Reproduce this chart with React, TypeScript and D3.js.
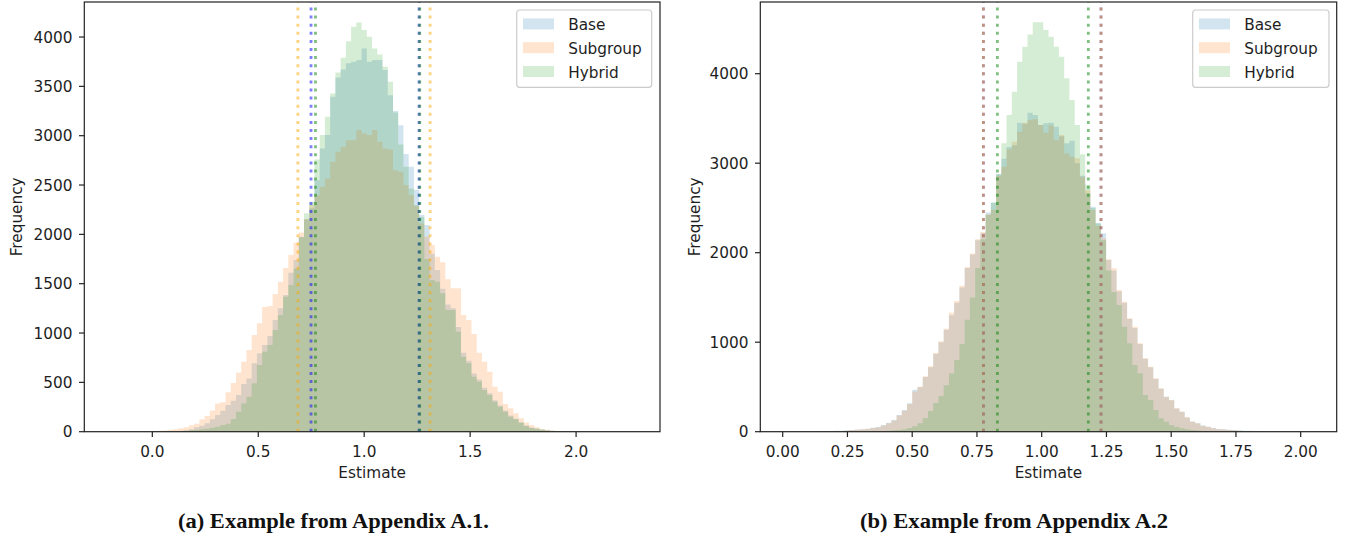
import React from 'react';
import * as d3 from 'd3';

// ---------- shared series metadata ----------
const seriesNames = ['Base', 'Subgroup', 'Hybrid'];
const fillColors = ['#1f77b4', '#ff7f0e', '#2ca02c'];
const lineColors = ['blue', 'orange', 'green'];

// ---------- panel (a): Appendix A.1 ----------
const aBinStart = -0.198;
const aBinWidth = 0.0247;
const aFirstBin = 8;
const aBase = [
  0, 0, 2, 4, 6, 10, 15, 25, 45, 60, 85, 126, 169, 213, 270, 314, 371, 483, 540, 693,
  794, 878, 970, 1132, 1250, 1385, 1611, 1739, 1976, 2150, 2264, 2548, 2870, 3006, 3394, 3591, 3672, 3733, 3750, 3766,
  3884, 3750, 3767, 3766, 3665, 3411, 3250, 3107, 2814, 2685, 2449, 2196, 2095, 1803, 1638, 1450, 1290, 1250, 1060, 800,
  720, 590, 530, 445, 390, 320, 265, 215, 165, 130, 95, 62, 42, 32, 22, 14, 9, 6, 4, 3,
  2, 2, 1,
];
const aSubgroup = [
  8, 10, 12, 17, 25, 34, 44, 65, 80, 125, 159, 216, 287, 298, 399, 493, 601, 709, 828, 980,
  1098, 1263, 1273, 1395, 1520, 1660, 1790, 1915, 2020, 2155, 2297, 2398, 2482, 2567, 2736, 2837, 2888, 2955, 2955, 3057,
  3023, 3006, 3057, 2938, 2871, 2861, 2651, 2634, 2499, 2398, 2287, 2111, 1976, 1892, 1773, 1717, 1544, 1453, 1453, 1182,
  1132, 990, 800, 709, 608, 456, 405, 281, 237, 186, 136, 92, 68, 45, 27, 20, 12, 8, 5, 3,
  2, 1, 0,
];
const aHybrid = [
  0, 0, 0, 2, 4, 6, 10, 14, 18, 24, 30, 41, 50, 68, 80, 128, 203, 287, 355, 490,
  675, 811, 878, 1030, 1182, 1368, 1486, 1655, 1970, 2213, 2330, 2760, 3006, 3192, 3428, 3640, 3790, 3958, 4103, 4148,
  4070, 4002, 3884, 3824, 3698, 3546, 3236, 2912, 2685, 2466, 2297, 2176, 1750, 1537, 1520, 1402, 1233, 1233, 1013, 760,
  693, 557, 507, 422, 372, 304, 253, 203, 152, 125, 91, 58, 37, 30, 20, 12, 8, 5, 3, 2,
  1, 0, 0,
];
// interval bounds per series (Base, Subgroup, Hybrid)
const aLower = [0.749, 0.687, 0.77];
const aUpper = [1.259, 1.311, 1.262];
const aXTicks = [0, 0.5, 1.0, 1.5, 2.0];
const aYTicks = [0, 500, 1000, 1500, 2000, 2500, 3000, 3500, 4000];
const aXDomain = [-0.321, 2.396];
const aYMax = 4355;

// ---------- panel (b): Appendix A.2 ----------
const bBinStart = 0.0147;
const bBinWidth = 0.02023;
const bFirstBin = 5;
const bBase = [
  3, 5, 6, 8, 10, 12, 15, 20, 24, 28, 32, 45, 52, 75, 101, 131, 187, 242, 317, 470,
  500, 610, 720, 870, 1000, 1140, 1300, 1440, 1610, 1830, 1980, 2140, 2220, 2450, 2560, 2880, 3050, 3180, 3200, 3453,
  3440, 3564, 3538, 3427, 3446, 3453, 3408, 3300, 3222, 3251, 3000, 2860, 2660, 2514, 2328, 2217, 1918, 1800, 1570, 1440,
  1260, 1160, 980, 815, 720, 590, 480, 390, 350, 260, 224, 160, 115, 95, 68, 56, 40, 30, 26, 22,
  18, 15, 12, 10, 8, 5, 3, 0,
];
const bSubgroup = [
  0, 2, 3, 5, 6, 8, 10, 18, 22, 26, 30, 42, 50, 70, 95, 125, 180, 235, 310, 450,
  503, 620, 730, 880, 1010, 1150, 1330, 1460, 1630, 1840, 1990, 2150, 2230, 2430, 2480, 2860, 2960, 3155, 3240, 3352,
  3453, 3483, 3491, 3427, 3341, 3420, 3259, 3315, 3111, 3073, 3054, 2849, 2700, 2477, 2300, 2161, 1926, 1826, 1583, 1453,
  1267, 1173, 988, 820, 726, 597, 485, 391, 354, 261, 224, 161, 112, 94, 67, 56, 38, 27, 25, 20,
  15, 10, 6, 4, 2, 1, 0, 0,
];
const bHybrid = [
  0, 0, 0, 0, 0, 0, 1, 2, 3, 4, 5, 6, 7, 8, 12, 15, 20, 28, 40, 60,
  95, 150, 230, 320, 400, 520, 650, 800, 980, 1250, 1500, 1830, 2150, 2420, 2559, 2876, 3222, 3538, 3799, 4134,
  4302, 4439, 4574, 4574, 4488, 4413, 4302, 4190, 3948, 3706, 3427, 3100, 2760, 2500, 2330, 2140, 1800, 1560, 1415, 1173,
  988, 745, 652, 410, 354, 242, 150, 112, 75, 56, 38, 27, 20, 13, 8, 5, 3, 2, 0, 0,
  0, 0, 0, 0, 0, 0, 0, 0,
];
const bLower = [0.775, 0.775, 0.829];
const bUpper = [1.229, 1.229, 1.18];
const bXTicks = [0, 0.25, 0.5, 0.75, 1.0, 1.25, 1.5, 1.75, 2.0];
const bYTicks = [0, 1000, 2000, 3000, 4000];
const bXDomain = [-0.0865, 2.139];
const bYMax = 4801;

const FONT = 'DejaVu Sans, sans-serif';
const FS = 15.3;
const TEXT = '#1e1e1e';

type PanelProps = {
  left: number;
  right: number;
  top: number;
  bottom: number;
  xDomain: number[];
  yMax: number;
  binStart: number;
  binWidth: number;
  firstBin: number;
  series: number[][];
  lower: number[];
  upper: number[];
  xTicks: number[];
  yTicks: number[];
  xFmt: (v: number) => string;
  ylabelX: number;
  legendX: number;
  legendW: number;
};

function Panel(p: PanelProps) {
  const x = d3.scaleLinear().domain(p.xDomain).range([p.left, p.right]);
  const y = d3.scaleLinear().domain([0, p.yMax]).range([p.bottom, p.top]);

  const area = d3
    .area<[number, number]>()
    .x((d) => x(d[0]))
    .y0(y(0))
    .y1((d) => y(d[1]))
    .curve(d3.curveStepAfter);

  const paths = p.series.map((counts) => {
    const pts: [number, number][] = counts.map((c, i) => [
      p.binStart + (p.firstBin + i) * p.binWidth,
      c,
    ]);
    const end = p.binStart + (p.firstBin + counts.length) * p.binWidth;
    pts.push([end, counts[counts.length - 1]]);
    return area(pts) || '';
  });

  const tickLen = 5.3;
  const lw = 1.2;
  const fmtY = d3.format('d');
  const legendTop = 10;
  const legendH = 77.3;
  const rowBase = [30, 53.8, 77.6];

  return (
    <g>
      {paths.map((d, i) => (
        <path key={'h' + i} d={d} fill={fillColors[i]} fillOpacity={0.2} stroke="none" />
      ))}
      {p.series.map((_, i) =>
        [p.lower[i], p.upper[i]].map((v, j) => (
          <line
            key={'v' + i + '-' + j}
            x1={x(v)}
            x2={x(v)}
            y1={p.bottom}
            y2={p.top}
            stroke={lineColors[i]}
            strokeOpacity={0.5}
            strokeWidth={2.8}
            strokeDasharray="3 5.1"
          />
        ))
      )}
      {/* frame */}
      <rect
        x={p.left}
        y={p.top}
        width={p.right - p.left}
        height={p.bottom - p.top}
        fill="none"
        stroke="#222"
        strokeWidth={lw}
      />
      {/* x axis */}
      {p.xTicks.map((t) => (
        <g key={'xt' + t}>
          <line x1={x(t)} x2={x(t)} y1={p.bottom} y2={p.bottom + tickLen} stroke="#222" strokeWidth={lw} />
          <text
            x={x(t)}
            y={p.bottom + 25}
            textAnchor="middle"
            fontFamily={FONT}
            fontSize={FS}
            fill={TEXT}
          >
            {p.xFmt(t)}
          </text>
        </g>
      ))}
      {/* y axis */}
      {p.yTicks.map((t) => (
        <g key={'yt' + t}>
          <line x1={p.left - tickLen} x2={p.left} y1={y(t)} y2={y(t)} stroke="#222" strokeWidth={lw} />
          <text
            x={p.left - tickLen - 6.5}
            y={y(t) + 5.7}
            textAnchor="end"
            fontFamily={FONT}
            fontSize={FS}
            fill={TEXT}
          >
            {fmtY(t)}
          </text>
        </g>
      ))}
      <text
        x={(p.left + p.right) / 2}
        y={478}
        textAnchor="middle"
        fontFamily={FONT}
        fontSize={FS}
        fill={TEXT}
      >
        Estimate
      </text>
      <text
        transform={`translate(${p.ylabelX},${(p.top + p.bottom) / 2}) rotate(-90)`}
        textAnchor="middle"
        fontFamily={FONT}
        fontSize={FS}
        fill={TEXT}
      >
        Frequency
      </text>
      {/* legend */}
      <rect
        x={p.legendX}
        y={legendTop}
        width={p.legendW}
        height={legendH}
        rx={3}
        fill="white"
        fillOpacity={0.8}
        stroke="#cccccc"
        strokeWidth={1.2}
      />
      {seriesNames.map((name, i) => (
        <g key={'lg' + name}>
          <rect
            x={p.legendX + 6.3}
            y={rowBase[i] - 11.6}
            width={31}
            height={11}
            fill={fillColors[i]}
            fillOpacity={0.2}
          />
          <text
            x={p.legendX + 51.5}
            y={rowBase[i]}
            fontFamily={FONT}
            fontSize={FS}
            fill={TEXT}
          >
            {name}
          </text>
        </g>
      ))}
    </g>
  );
}

export default function App() {
  const fmt1 = d3.format('.1f');
  const fmt2 = d3.format('.2f');
  return (
    <svg
      width={1346}
      height={539}
      style={{ position: 'absolute', left: 0, top: 0, background: 'white' }}
    >
      <rect x={0} y={0} width={1346} height={539} fill="white" />
      <Panel
        left={84.3}
        right={660}
        top={2}
        bottom={431.7}
        xDomain={aXDomain}
        yMax={aYMax}
        binStart={aBinStart}
        binWidth={aBinWidth}
        firstBin={aFirstBin}
        series={[aBase, aSubgroup, aHybrid]}
        lower={aLower}
        upper={aUpper}
        xTicks={aXTicks}
        yTicks={aYTicks}
        xFmt={fmt1}
        ylabelX={21.5}
        legendX={516.7}
        legendW={135}
      />
      <Panel
        left={760.3}
        right={1336.7}
        top={2}
        bottom={431.7}
        xDomain={bXDomain}
        yMax={bYMax}
        binStart={bBinStart}
        binWidth={bBinWidth}
        firstBin={bFirstBin}
        series={[bBase, bSubgroup, bHybrid]}
        lower={bLower}
        upper={bUpper}
        xTicks={bXTicks}
        yTicks={bYTicks}
        xFmt={fmt2}
        ylabelX={699.5}
        legendX={1192.7}
        legendW={136.3}
      />
      <text
        x={178}
        y={527.5}
        fontFamily="Liberation Serif, serif"
        fontWeight="bold"
        fontSize={20}
        textLength={311}
        lengthAdjust="spacingAndGlyphs"
        fill="#111"
      >
        (a) Example from Appendix A.1.
      </text>
      <text
        x={860}
        y={527.5}
        fontFamily="Liberation Serif, serif"
        fontWeight="bold"
        fontSize={20}
        textLength={308}
        lengthAdjust="spacingAndGlyphs"
        fill="#111"
      >
        (b) Example from Appendix A.2
      </text>
    </svg>
  );
}
